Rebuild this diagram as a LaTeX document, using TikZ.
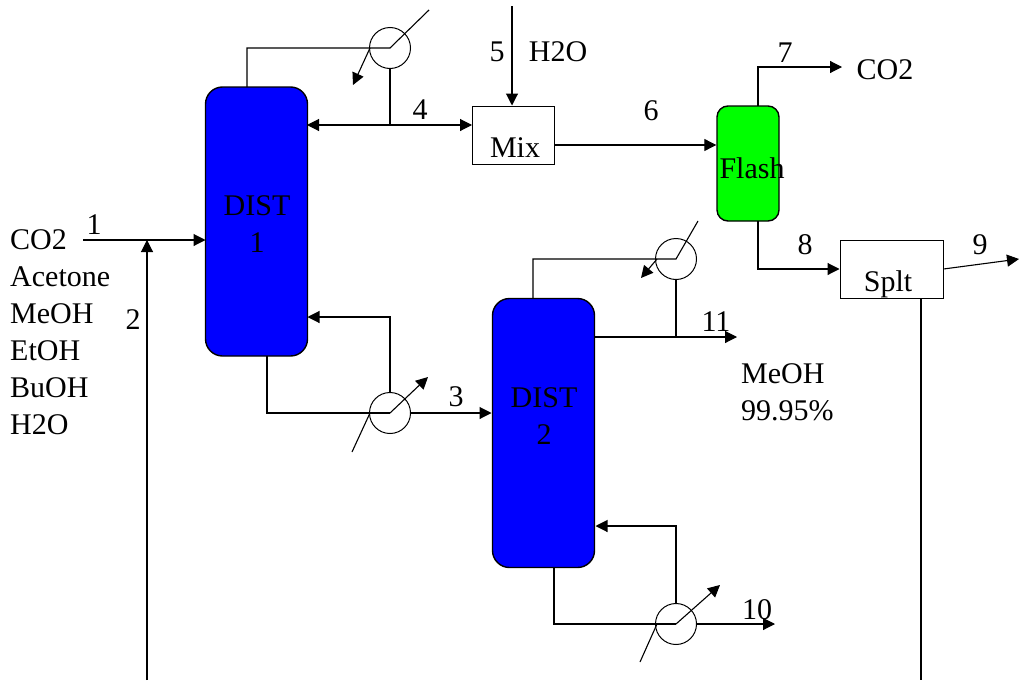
\documentclass[tikz,border=0pt]{standalone}
\usepackage{fontspec}
\setmainfont{Liberation Serif}
\usetikzlibrary{arrows.meta}
\tikzset{
    column/.style={draw=black, line width=1.4pt, fill=blue, rounded corners=17pt, minimum width=102pt, minimum height=269pt},
    drum/.style={draw=black, line width=1.4pt, fill=green, rounded corners=11pt, minimum width=62pt, minimum height=115pt},
    unit/.style={draw=black, line width=1pt, fill=white, minimum width=82pt, minimum height=58pt},
    cooler/.style={draw=black, line width=1pt, circle, minimum size=41pt, inner sep=0pt},
    tag/.style={font=\fontsize{30}{37}\selectfont, inner sep=0pt},
    pipe/.style={line width=1.1pt},
    flow/.style={line width=1.1pt, -{Triangle[length=12pt,width=12pt]}}
}
\begin{document}
\begin{tikzpicture}[x=1pt, y=-1pt]
    \useasboundingbox (0,0) rectangle (1019,680);

    % Columns and vessels
    \node[column] (dist1) at (256.5,221.5) {};
    \node[column] (dist2) at (543.5,433) {};
    \node[drum] (flash) at (748,163.5) {};
    \node[unit] (mix) at (513,135) {};
    \node[unit, minimum width=103pt] (splt) at (891.5,269) {};

    % Heat exchangers
    \node[cooler] (cond1) at (390,48) {};
    \node[cooler] (reb1) at (390,413) {};
    \node[cooler] (cond2) at (676,259) {};
    \node[cooler] (reb2) at (676,624) {};

    % Free ends and junctions
    \coordinate (feedin) at (83,240);
    \coordinate (feedjoin) at (147,240);
    \coordinate (recyclein) at (147,680);
    \coordinate (refluxjoin) at (390,125);
    \coordinate (waterin) at (512,6);
    \coordinate (co2out) at (842,67);
    \coordinate (splitout) at (1019,259);
    \coordinate (recycleout) at (921,680);
    \coordinate (meohout) at (737,337);
    \coordinate (meohjoin) at (676,337);
    \coordinate (bottomsout) at (775,624);

    % Column 1 overhead
    \draw[pipe] (247,87) |- (cond1.center) -- (429,10);
    \draw[flow] (370,48) -- (353,85);
    \draw[pipe] (cond1.south) -- (refluxjoin);
    \draw[pipe, {Triangle[length=12pt,width=12pt]}-{Triangle[length=12pt,width=12pt]}] (307,125) -- (472,125);

    % Column 1 bottoms
    \draw[pipe] (267,356) |- (reb1.center);
    \draw[flow] (reb1.center) -- (428,377);
    \draw[pipe] (370,413) -- (352,452);
    \draw[flow] (reb1.north) |- (307.5,317);
    \draw[flow] (reb1.east) -- (491.5,413);

    % Column 2 overhead
    \draw[pipe] (533,298) |- (cond2.center) -- (698,221);
    \draw[flow] (657,259) -- (641,278);
    \draw[pipe] (cond2.south) -- (meohjoin);
    \draw[flow] (595,337) -- (meohout);

    % Column 2 bottoms
    \draw[pipe] (554,568) |- (reb2.center);
    \draw[flow] (reb2.center) -- (720,585);
    \draw[pipe] (657,624) -- (640,662);
    \draw[flow] (reb2.north) |- (595.5,526);
    \draw[flow] (reb2.east) -- (bottomsout);

    % Feed and recycle
    \draw[flow] (feedin) -- (205.5,240);
    \draw[flow] (recyclein) -- (feedjoin);

    % Mix, flash and split
    \draw[flow] (waterin) -- (mix.north -| waterin);
    \draw[flow] (mix.east |- 0,145) -- (flash.west |- 0,145);
    \draw[flow] (758,106) |- (co2out);
    \draw[flow] (758,221) |- (splt.west);
    \draw[flow] (splt.east) -- (splitout);
    \draw[pipe] (921,298) -- (recycleout);

    % Unit names
    \node[tag, align=center] (dist1name) at (257,224) {DIST\\1};
    \node[tag, align=center] (dist2name) at (544,416) {DIST\\2};
    \node[tag] (mixname) at (515,148) {Mix};
    \node[tag] (flashname) at (752,168) {Flash};
    \node[tag] (spltname) at (888,284) {Splt};

    % Stream numbers
    \node[tag] (s1) at (94,225) {1};
    \node[tag] (s2) at (133,320) {2};
    \node[tag] (s3) at (456,397) {3};
    \node[tag] (s4) at (420,110) {4};
    \node[tag] (s5) at (497,52) {5};
    \node[tag] (s6) at (651,111) {6};
    \node[tag] (s7) at (785,53) {7};
    \node[tag] (s8) at (805,245) {8};
    \node[tag] (s9) at (980,245) {9};
    \node[tag] (s10) at (757,610) {10};
    \node[tag] (s11) at (716,322) {11};

    % Stream contents
    \node[tag, align=left, anchor=north west] (feedlist) at (10,229) {CO2\\Acetone\\MeOH\\EtOH\\BuOH\\H2O};
    \node[tag] (water) at (558,52) {H2O};
    \node[tag] (co2) at (885,70) {CO2};
    \node[tag, align=left, anchor=north west] (meoh) at (741,363) {MeOH\\99.95\%};
\end{tikzpicture}
\end{document}
